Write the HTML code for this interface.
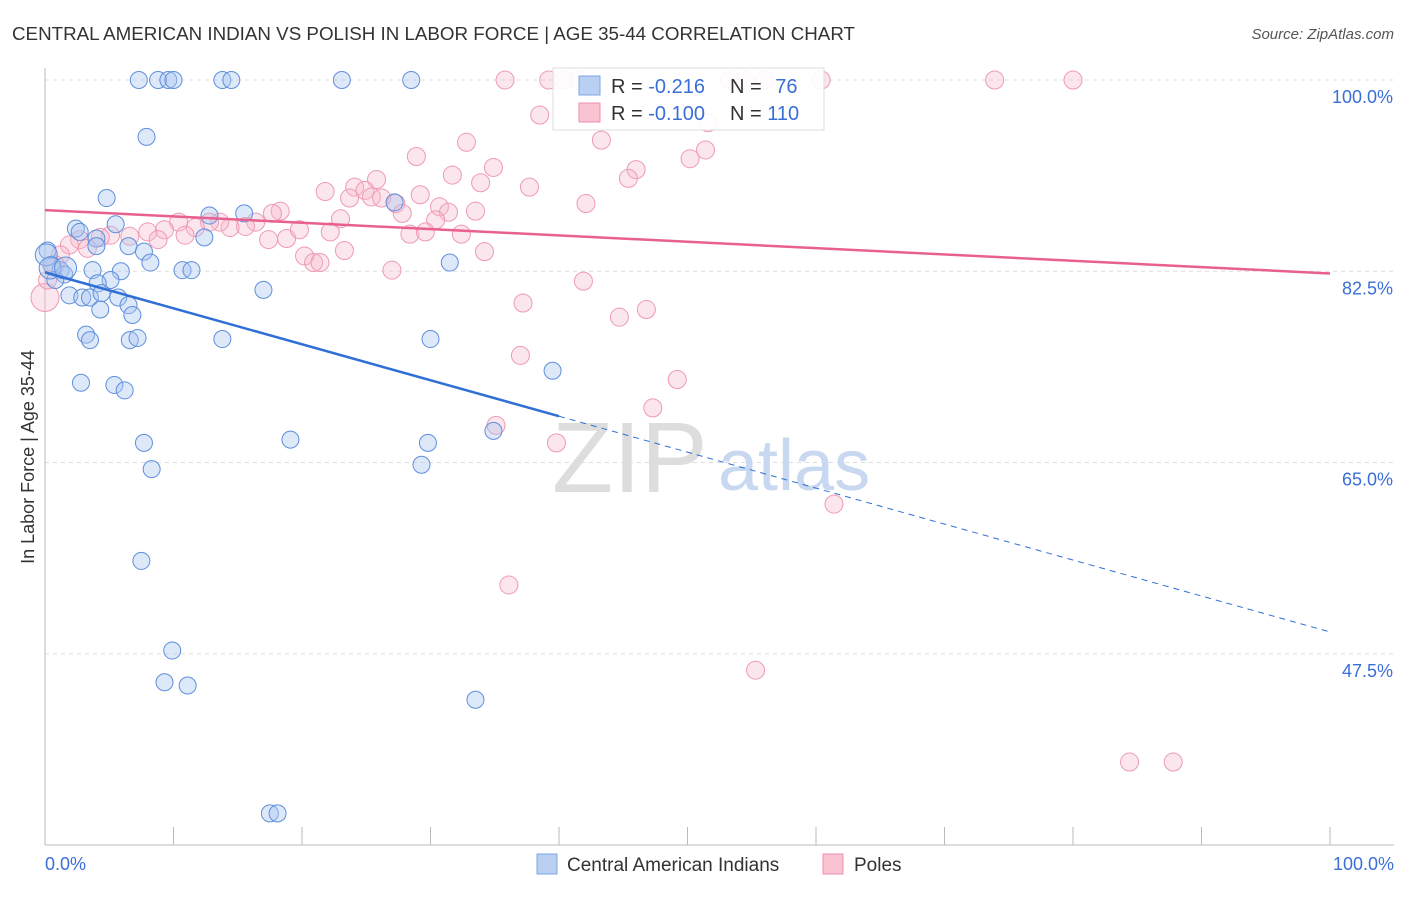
<!DOCTYPE html>
<html><head><meta charset="utf-8"><style>
body{margin:0;background:#fff;font-family:"Liberation Sans",sans-serif;}
svg text{font-family:"Liberation Sans",sans-serif;}
</style></head><body>
<svg id="c" width="1406" height="892" viewBox="0 0 1406 892">
<text x="12" y="40" font-size="18" fill="#333" textLength="843" lengthAdjust="spacingAndGlyphs">CENTRAL AMERICAN INDIAN VS POLISH IN LABOR FORCE | AGE 35-44 CORRELATION CHART</text>
<text x="1394" y="39" font-size="15" fill="#555" font-style="italic" text-anchor="end">Source: ZipAtlas.com</text>
<g id="grid"></g>
<g><text x="552" y="492" font-size="100" fill="#ddd" font-family="Liberation Serif">ZIP</text><text x="718" y="490" font-size="72" fill="#c8d8f0">atlas</text></g>
<g id="pts"></g>
<g id="lines"></g>
<text transform="translate(34,457) rotate(-90)" font-size="18" fill="#333" text-anchor="middle">In Labor Force | Age 35-44</text>
<text x="45" y="870" font-size="18" fill="#3a6fd8">0.0%</text>
<text x="1394" y="870" font-size="18" fill="#3a6fd8" text-anchor="end">100.0%</text>
<g>
<rect x="553" y="68" width="271" height="62" fill="#fff" fill-opacity="0.9" stroke="#ddd"/>
<rect x="579" y="76" width="21" height="19" fill="#b9d0f3" stroke="#7ea6e6"/>
<rect x="579" y="103" width="21" height="19" fill="#f9c3d2" stroke="#ef8fab"/>
<text x="611" y="93" font-size="20" fill="#333">R = <tspan fill="#3a6fd8">-0.216</tspan></text>
<text x="730" y="93" font-size="20" fill="#333">N = <tspan fill="#3a6fd8" dx="8">76</tspan></text>
<text x="611" y="120" font-size="20" fill="#333">R = <tspan fill="#3a6fd8">-0.100</tspan></text>
<text x="730" y="120" font-size="20" fill="#333">N = <tspan fill="#3a6fd8">110</tspan></text>
</g>
<g>
<rect x="537" y="854" width="20" height="20" fill="#b9d0f3" stroke="#7ea6e6"/>
<text x="567" y="871" font-size="19" fill="#333">Central American Indians</text>
<rect x="823" y="854" width="20" height="20" fill="#f9c3d2" stroke="#ef8fab"/>
<text x="854" y="871" font-size="19" fill="#333">Poles</text>
</g>
</svg>
<script>
const yTicks=[100,82.5,65,47.5];
const yTickLabels=["100.0%","82.5%","65.0%","47.5%"];
const blueX=[7.3,8.8,9.6,10.0,13.8,14.5,23.1,28.5,7.9,4.8,5.5,12.8,15.5,2.4,2.7,4.0,4.0,6.5,7.7,12.4,8.2,0.2,0.5,1.2,1.5,0.8,3.7,5.9,10.7,11.4,31.5,27.2,5.1,4.1,1.9,2.9,3.5,4.4,5.7,6.5,4.3,6.8,17.0,3.2,3.5,6.6,7.2,13.8,30.0,39.5,2.8,5.4,6.2,7.7,19.1,29.8,34.9,8.3,29.3,7.5,9.9,9.3,11.1,33.5,17.5,18.1,0.1,0.4,1.6];
const blueY=[100,100,100,100,100,100,100,100,94.8,89.2,86.8,87.6,87.8,86.4,86.1,85.5,84.8,84.8,84.3,85.6,83.3,84.4,83.1,82.6,82.2,81.7,82.6,82.5,82.6,82.6,83.3,88.8,81.7,81.4,80.3,80.1,80.1,80.5,80.1,79.4,79.0,78.5,80.8,76.7,76.2,76.2,76.4,76.3,76.3,73.4,72.3,72.1,71.6,66.8,67.1,66.8,67.9,64.4,64.8,56.0,47.8,44.9,44.6,43.3,32.9,32.9,84.0,82.8,82.8];
const pinkX=[35.8,39.2,40.3,41.5,53.3,54.5,56.0,60.4,73.9,80.0,38.5,51.6,43.3,32.8,51.4,28.9,34.9,50.2,46.0,45.4,31.7,33.9,37.7,25.8,24.1,24.9,21.8,23.7,25.4,26.2,29.2,27.3,27.8,30.7,31.4,33.5,42.1,30.4,18.3,17.7,23.0,16.4,15.6,14.4,13.6,12.8,11.7,10.4,9.3,8.0,6.6,5.1,4.3,2.7,1.9,3.3,8.8,10.9,17.4,18.8,19.8,22.2,28.4,29.6,32.4,34.2,23.3,20.2,20.9,21.4,27.0,41.9,37.2,44.7,46.8,37.0,49.2,47.3,35.1,39.8,61.4,36.1,55.3,84.4,87.8,0,0.2,1.2,0.8];
const pinkY=[100,100,100,100,100,100,100,100,100,100,96.8,96.1,94.5,94.3,93.6,93.0,92.0,92.8,91.8,91.0,91.3,90.6,90.2,90.9,90.2,89.9,89.8,89.2,89.3,89.2,89.5,88.7,87.8,88.4,87.9,88.0,88.7,87.2,88.0,87.8,87.3,87.0,86.6,86.5,87.0,87.0,86.5,87.0,86.3,86.1,85.7,85.8,85.6,85.4,84.9,84.6,85.4,85.8,85.4,85.5,86.3,86.1,85.9,86.1,85.9,84.3,84.4,83.9,83.3,83.3,82.6,81.6,79.6,78.3,79.0,74.8,72.6,70.0,68.4,66.8,61.2,53.8,46.0,37.6,37.6,80.1,81.7,84.0,83.1];
const blueTrend=[82.4,-0.329];
const pinkTrend=[88.1,-0.058];
const NS="http://www.w3.org/2000/svg";
const X=v=>45+v*12.85, Y=v=>80+(100-v)*10.93;
function mk(t,a,p){const e=document.createElementNS(NS,t);for(const k in a)e.setAttribute(k,a[k]);p.appendChild(e);return e;}
const grid=document.getElementById('grid');
yTicks.forEach((t,i)=>{
 const l=mk('line',{x1:45,x2:1394,y1:Y(t),y2:Y(t),stroke:'#ddd','stroke-dasharray':'4 4'},grid);
 
 
 const tx=mk('text',{x:1393,y:Y(t)+23,'font-size':18,fill:'#3a6fd8','text-anchor':'end'},grid);
 tx.textContent=yTickLabels[i];
 
 
});
const ax=mk('line',{x1:45,x2:1394,y1:845,y2:845,stroke:'#bbb'},grid);


const ay=mk('line',{x1:45,x2:45,y1:68,y2:845,stroke:'#bbb'},grid);


for(let i=0;i<=10;i++){const t=mk('line',{x1:X(i*10),x2:X(i*10),y1:827,y2:845,stroke:'#bbb'},grid);
 
 }
const pts=document.getElementById('pts');
pinkX.forEach((x,i)=>{const c=mk('circle',{cx:X(x),cy:Y(pinkY[i]),r:(i==pinkX.length-4?14:9),fill:'#f7b8cb','fill-opacity':0.35,stroke:'#ee9ab3','stroke-width':1},pts);
 
 });
blueX.forEach((x,i)=>{const c=mk('circle',{cx:X(x),cy:Y(blueY[i]),r:(i>=blueX.length-3?11:8.5),fill:'#a9c6f0','fill-opacity':0.4,stroke:'#5f8fdc','stroke-width':1},pts);
 
 });
const ln=document.getElementById('lines');
const pl=mk('line',{x1:X(0),y1:Y(pinkTrend[0]),x2:X(100),y2:Y(pinkTrend[0]+pinkTrend[1]*100),stroke:'#e8608d','stroke-width':2.5},ln);


const bl=mk('line',{x1:X(0),y1:Y(blueTrend[0]),x2:X(40),y2:Y(blueTrend[0]+blueTrend[1]*40),stroke:'#2f6fd6','stroke-width':2.5},ln);


const bd=mk('line',{x1:X(40),y1:Y(blueTrend[0]+blueTrend[1]*40),x2:X(100),y2:Y(blueTrend[0]+blueTrend[1]*100),stroke:'#2f6fd6','stroke-width':1,'stroke-dasharray':'6 5'},ln);


</script>
</body></html>
